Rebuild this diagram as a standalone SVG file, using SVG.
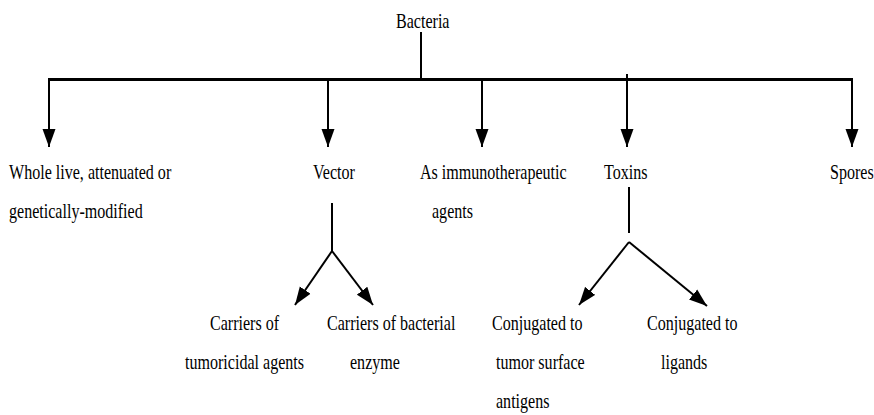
<svg xmlns="http://www.w3.org/2000/svg" width="874" height="415" viewBox="0 0 874 415">
<style>
text{font-family:"Liberation Serif","Times New Roman",serif;font-size:22px;fill:#000}
.ln{stroke:#000;stroke-width:2;fill:none}
.bar{stroke:#000;stroke-width:3;fill:none}
</style>
<defs>
<marker id="ah" markerUnits="userSpaceOnUse" markerWidth="20" markerHeight="14" viewBox="0 -7 20 14" refX="18" refY="0" orient="auto">
<path d="M0,-6.5 L18,0 L0,6.5 Z" fill="#000"/>
</marker>
</defs>
<rect width="874" height="415" fill="#fff"/>
<g id="connectors">
<line class="ln" x1="421" y1="32" x2="421" y2="79"/>
<line class="bar" x1="48" y1="79.5" x2="853" y2="79.5"/>
<line class="ln" x1="49" y1="79" x2="49" y2="147" marker-end="url(#ah)"/>
<line class="ln" x1="328" y1="79" x2="328" y2="147" marker-end="url(#ah)"/>
<line class="ln" x1="482" y1="79" x2="482" y2="147" marker-end="url(#ah)"/>
<line class="ln" x1="627" y1="74" x2="627" y2="147" marker-end="url(#ah)"/>
<line class="ln" x1="852" y1="79" x2="852" y2="147" marker-end="url(#ah)"/>
<line class="ln" x1="332" y1="203" x2="332" y2="251"/>
<line class="ln" x1="332" y1="251" x2="295" y2="305" marker-end="url(#ah)"/>
<line class="ln" x1="332" y1="251" x2="373" y2="305" marker-end="url(#ah)"/>
<line class="ln" x1="629" y1="187" x2="629" y2="233"/>
<line class="ln" x1="629" y1="242" x2="579" y2="305" marker-end="url(#ah)"/>
<line class="ln" x1="629" y1="242" x2="707" y2="306" marker-end="url(#ah)"/>
</g>
<g id="bacteria"><text transform="translate(396,28) scale(0.73,1)">Bacteria</text></g>
<g id="whole"><text transform="translate(9,179) scale(0.73,1)">Whole live, attenuated or</text><text transform="translate(9,218) scale(0.73,1)">genetically-modified</text></g>
<g id="vector"><text transform="translate(313,179) scale(0.73,1)">Vector</text></g>
<g id="immuno"><text transform="translate(420,179) scale(0.73,1)">As immunotherapeutic</text><text transform="translate(432,218) scale(0.73,1)">agents</text></g>
<g id="toxins"><text transform="translate(604,179) scale(0.73,1)">Toxins</text></g>
<g id="spores"><text transform="translate(830,179) scale(0.73,1)">Spores</text></g>
<g id="carriers-tumoricidal"><text transform="translate(210,330) scale(0.73,1)">Carriers of</text><text transform="translate(185,369) scale(0.73,1)">tumoricidal agents</text></g>
<g id="carriers-enzyme"><text transform="translate(327,330) scale(0.73,1)">Carriers of bacterial</text><text transform="translate(350,369) scale(0.73,1)">enzyme</text></g>
<g id="conj-tumor"><text transform="translate(492,330) scale(0.73,1)">Conjugated to</text><text transform="translate(496,369) scale(0.73,1)">tumor surface</text><text transform="translate(496,408) scale(0.73,1)">antigens</text></g>
<g id="conj-ligands"><text transform="translate(647,330) scale(0.73,1)">Conjugated to</text><text transform="translate(661,369) scale(0.73,1)">ligands</text></g>
</svg>
